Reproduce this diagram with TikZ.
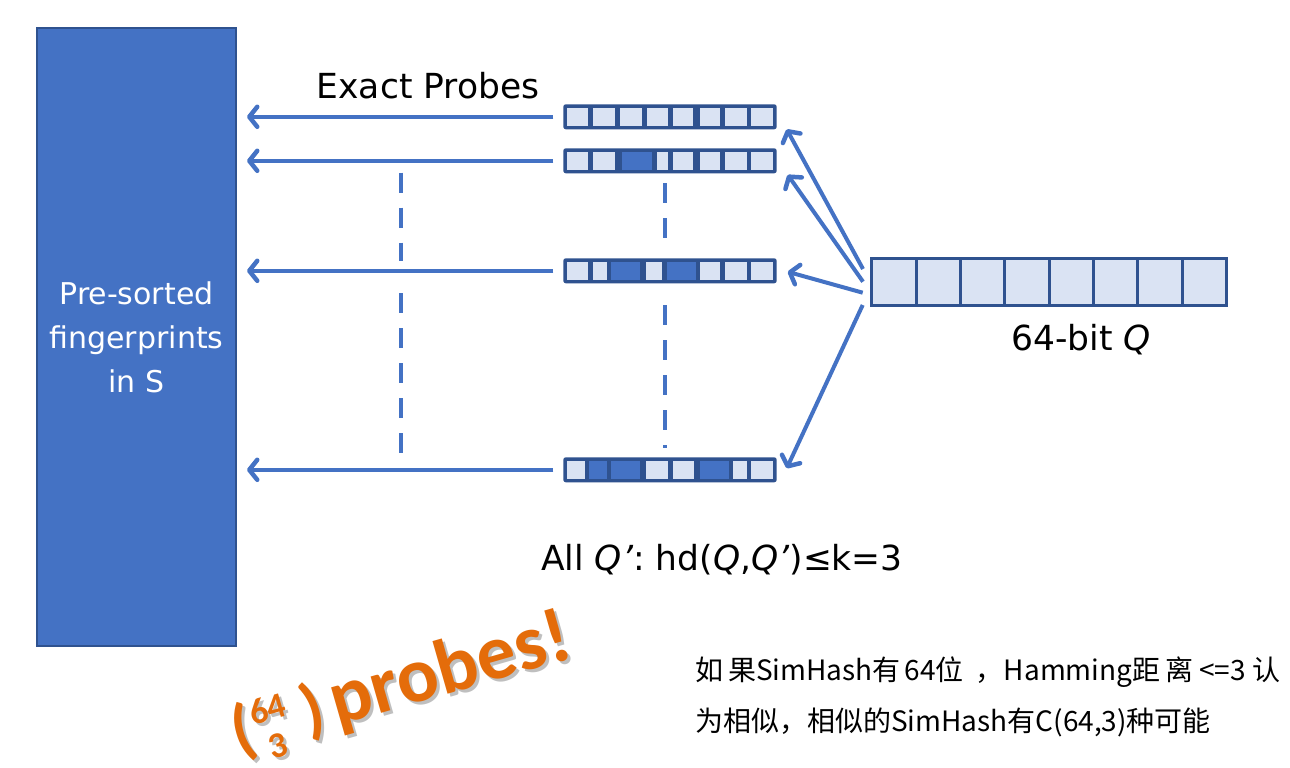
\documentclass[tikz,border=0pt]{standalone}
\usepackage{fontspec}
\setmainfont{DejaVu Sans}
\newfontfamily\calfont{Carlito}
\newfontfamily\cjk{Noto Sans CJK SC}
\usetikzlibrary{arrows.meta,calc}
\definecolor{mblue}{HTML}{4472C4}
\definecolor{dblue}{HTML}{2F528F}
\definecolor{lblue}{HTML}{DAE3F3}
\definecolor{orng}{HTML}{E46C0A}
\newcommand\probesbody{\calfont\bfseries{\fontsize{68}{68}\selectfont(}\hspace{1pt}\raisebox{-15pt}{\fontsize{36}{38}\selectfont\begin{tabular}[b]{@{}c@{}}64\\3\end{tabular}}\hspace{15pt}{\fontsize{68}{68}\selectfont)}\hspace{8pt}{\fontsize{78}{78}\selectfont probes!}}
\begin{document}
\begin{tikzpicture}[x=1pt,y=-1pt,
  arr/.style={draw=mblue,line width=4pt,-{Straight Barb[length=8pt,width=20pt,line width=4.5pt,round]}},
  dashline/.style={draw=mblue,line width=4pt,dash pattern=on 20pt off 15pt},
  bar/.style={rectangle,rounded corners=2.5pt,fill=dblue,minimum width=213.4pt,minimum height=25pt,inner sep=0pt,outer sep=0pt},
  qbar/.style={rectangle,draw=dblue,line width=3pt,fill=lblue,minimum width=355pt,minimum height=46.7pt,inner sep=0pt,outer sep=0pt},
  big/.style={rectangle,draw=dblue,line width=2.5pt,fill=mblue,minimum width=199pt,minimum height=618pt,inner sep=0pt,outer sep=0pt,
    text=white,align=center,font=\fontsize{30}{44}\selectfont},
  lbl/.style={inner sep=0pt,font=\fontsize{34.5}{40}\selectfont},
  note/.style={inner sep=0pt,anchor=west,font=\cjk\fontsize{28}{32}\selectfont},
  probes/.style={inner sep=0pt,rotate=16}]
\useasboundingbox (0,0) rectangle (1290,768);
\fill[white] (0,0) rectangle (1290,768);

% big store
\node[big] (S) at (136.5,337) {Pre-sorted\\fingerprints\\in S};

% probe bars
\node[bar] (b1) at (670,116.8) {};
\node[bar] (b2) at (670,160.8) {};
\node[bar] (b3) at (670,270.8) {};
\node[bar] (b4) at (670,469.8) {};
\foreach \a/\b/\c in {566.7/588.3/lblue,593.3/615/lblue,620/641.7/lblue,646.7/668.3/lblue,673.3/693.3/lblue,700/720/lblue,725/746.7/lblue,751/772.7/lblue}
  \fill[\c] (\a,107.5) rectangle (\b,126.1);
\foreach \a/\b/\c in {566.7/588.3/lblue,593.3/615/lblue,621.7/651.7/mblue,656.7/668.3/lblue,673.3/693.3/lblue,700/720/lblue,725/746.7/lblue,751/772.7/lblue}
  \fill[\c] (\a,151.5) rectangle (\b,170.1);
\foreach \a/\b/\c in {566.7/588.3/lblue,593.3/606.7/lblue,611/640/mblue,646/661.7/lblue,666.7/695.7/mblue,700/720/lblue,725/746.7/lblue,751/772.7/lblue}
  \fill[\c] (\a,261.5) rectangle (\b,280.1);
\foreach \a/\b/\c in {566.7/585/lblue,589.3/606.7/mblue,611/640/mblue,646/668.3/lblue,673.3/694/lblue,700/729/mblue,733/746.7/lblue,751/772.7/lblue}
  \fill[\c] (\a,460.5) rectangle (\b,479.1);

% query bar
\node[qbar] (Q) at (1049.2,281.7) {};
\foreach \i in {1,...,7}
  \draw[dblue,line width=3pt] ($(Q.north west)+(44.375*\i,0)$) -- ($(Q.south west)+(44.375*\i,0)$);

% labels
\node[lbl] (ep) at (428,86) {Exact Probes};
\node[lbl] (qb) at (1081,340) {64-bit \textit{Q}};
\node[lbl] (all) at (722,560) {All \textit{Q’}: hd(\textit{Q},\textit{Q’})≤k=3};

% dashed lines
\coordinate (d1a) at (400.7,172.7);
\coordinate (d1b) at (400.7,260.7);
\coordinate (d1c) at (400.7,293.3);
\coordinate (d1d) at (400.7,454);
\coordinate (d2a) at (664.7,183.3);
\coordinate (d2b) at (664.7,238.3);
\coordinate (d2c) at (664.7,305);
\coordinate (d2d) at (664.7,448.3);
\draw[dashline] (d1a) -- (d1b);
\draw[dashline] (d1c) -- (d1d);
\draw[dashline] (d2a) -- (d2b);
\draw[dashline] (d2c) -- (d2d);

% horizontal exact-probe arrows
\foreach \b in {b1,b2,b3,b4}
  \draw[arr,shorten <=10pt,shorten >=11pt] (\b.west) -- (\b.west -| S.east);

% arrows from Q to probes
\draw[arr] ($(Q.west)+(-8.7,-12.7)$) -- ($(b1.east)+(10,12.5)$);
\draw[arr] ($(Q.west)+(-8.7,0)$) -- ($(b2.east)+(11,14)$);
\draw[arr] ($(Q.west)+(-9,11)$) -- ($(b3.east)+(11,1)$);
\draw[arr] ($(Q.west)+(-9,23.3)$) -- ($(b4.east)+(10,-1.5)$);

% probes! callout
\node[probes,text=black,opacity=0.25] (ps) at (406,695) {\probesbody};
\node[probes,text=orng] (pr) at (403,692) {\probesbody};

% note
\node[note] (n1) at (695,672) {如\hspace{5pt}果SimHash有\hspace{4pt}64位\hspace{12pt}，Hamming距\hspace{5pt}离\hspace{6pt}<=3\hspace{6pt}认};
\node[note] (n2) at (695,722) {为相似，相似的SimHash有C(64,3)种可能};
\end{tikzpicture}
\end{document}
